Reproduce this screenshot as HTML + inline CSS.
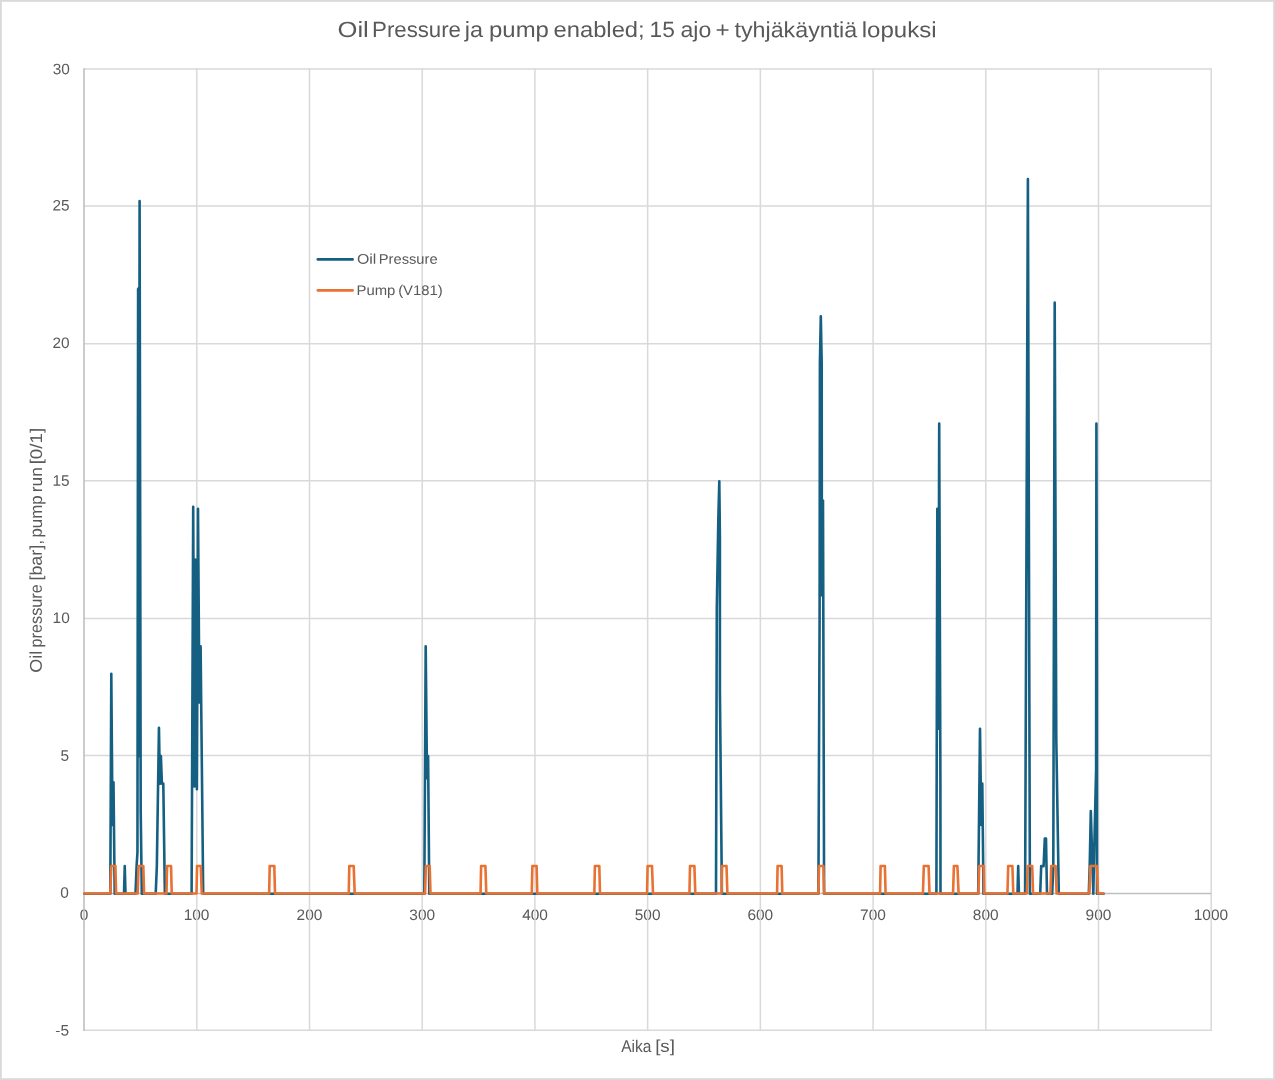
<!DOCTYPE html>
<html lang="fi">
<head>
<meta charset="utf-8">
<title>Oil Pressure ja pump enabled</title>
<style>
html,body{margin:0;padding:0;background:#fff;}
body{width:1275px;height:1080px;overflow:hidden;}
svg{display:block;}
text{font-family:'Liberation Sans', Arial, sans-serif;fill:#595959;}
</style>
</head>
<body>
<svg width="1275" height="1080" viewBox="0 0 1275 1080">
<rect x="0" y="0" width="1275" height="1080" fill="#ffffff"/>
<rect x="0.9" y="0.9" width="1273.2" height="1078.2" fill="none" stroke="#D9D9D9" stroke-width="1.8"/>

<g>
<text x="79.71" y="920.1" font-size="15.2" textLength="8.58" lengthAdjust="spacingAndGlyphs" transform="rotate(0.03 84.0 920.1)">0</text>
<text x="183.65" y="920.1" font-size="15.2" textLength="25.74" lengthAdjust="spacingAndGlyphs" transform="rotate(0.03 196.8 920.1)">100</text>
<text x="296.56" y="920.1" font-size="15.2" textLength="25.74" lengthAdjust="spacingAndGlyphs" transform="rotate(0.03 309.5 920.1)">200</text>
<text x="409.37" y="920.1" font-size="15.2" textLength="25.74" lengthAdjust="spacingAndGlyphs" transform="rotate(0.03 422.2 920.1)">300</text>
<text x="522.19" y="920.1" font-size="15.2" textLength="25.74" lengthAdjust="spacingAndGlyphs" transform="rotate(0.03 534.9 920.1)">400</text>
<text x="634.77" y="920.1" font-size="15.2" textLength="25.74" lengthAdjust="spacingAndGlyphs" transform="rotate(0.03 647.6 920.1)">500</text>
<text x="747.40" y="920.1" font-size="15.2" textLength="25.74" lengthAdjust="spacingAndGlyphs" transform="rotate(0.03 760.4 920.1)">600</text>
<text x="860.11" y="920.1" font-size="15.2" textLength="25.74" lengthAdjust="spacingAndGlyphs" transform="rotate(0.03 873.1 920.1)">700</text>
<text x="972.88" y="920.1" font-size="15.2" textLength="25.74" lengthAdjust="spacingAndGlyphs" transform="rotate(0.03 985.8 920.1)">800</text>
<text x="1085.56" y="920.1" font-size="15.2" textLength="25.74" lengthAdjust="spacingAndGlyphs" transform="rotate(0.03 1098.5 920.1)">900</text>
<text x="1193.75" y="920.1" font-size="15.2" textLength="34.32" lengthAdjust="spacingAndGlyphs" transform="rotate(0.03 1211.2 920.1)">1000</text>
</g>
<g stroke="#D9D9D9" stroke-width="1.5" fill="none">
<line x1="84.0" x2="1211.2" y1="69.10" y2="69.10"/>
<line x1="84.0" x2="1211.2" y1="206.00" y2="206.00"/>
<line x1="84.0" x2="1211.2" y1="343.80" y2="343.80"/>
<line x1="84.0" x2="1211.2" y1="480.70" y2="480.70"/>
<line x1="84.0" x2="1211.2" y1="618.60" y2="618.60"/>
<line x1="84.0" x2="1211.2" y1="755.60" y2="755.60"/>
<line x1="84.0" x2="1211.9" y1="1030.2" y2="1030.2"/>
<line x1="196.81" x2="196.81" y1="68.29" y2="1030.9"/>
<line x1="309.52" x2="309.52" y1="68.29" y2="1030.9"/>
<line x1="422.23" x2="422.23" y1="68.29" y2="1030.9"/>
<line x1="534.94" x2="534.94" y1="68.29" y2="1030.9"/>
<line x1="647.65" x2="647.65" y1="68.29" y2="1030.9"/>
<line x1="760.36" x2="760.36" y1="68.29" y2="1030.9"/>
<line x1="873.07" x2="873.07" y1="68.29" y2="1030.9"/>
<line x1="985.78" x2="985.78" y1="68.29" y2="1030.9"/>
<line x1="1098.49" x2="1098.49" y1="68.29" y2="1030.9"/>
<line x1="1211.20" x2="1211.20" y1="68.29" y2="1030.9"/>
</g>
<g stroke="#BFBFBF" stroke-width="1.6" fill="none">
<line x1="84.0" x2="84.0" y1="68.29" y2="1030.9"/>
<line x1="84.0" x2="1211.2" y1="893.55" y2="893.55"/>
</g>
<polyline points="84.40,893.75 110.30,893.75 111.30,673.70 112.50,824.88 113.50,782.28 114.70,893.75 124.00,893.75 124.75,866.11 125.50,893.75 135.50,893.75 136.60,866.11 137.45,852.37 138.10,288.89 138.90,756.16 139.60,200.93 140.70,811.14 141.80,893.75 155.70,893.75 156.85,866.11 158.95,727.85 159.90,783.65 160.90,756.16 161.90,783.65 163.30,783.65 164.85,893.75 191.60,893.75 193.20,506.86 194.40,786.40 195.30,559.63 196.90,789.15 198.00,508.78 199.40,702.57 200.60,646.22 203.20,893.75 424.30,893.75 425.70,646.22 427.00,778.15 428.10,756.16 429.30,893.75 716.00,893.75 716.80,607.74 718.30,519.78 719.30,481.30 719.90,536.27 719.90,690.20 721.90,893.75 818.40,893.75 819.60,618.73 819.90,363.10 820.80,316.37 821.70,363.10 821.90,595.37 823.00,500.54 824.10,893.75 936.40,893.75 937.30,508.78 938.40,728.68 939.20,423.57 940.40,780.90 940.50,893.75 978.20,893.75 980.00,728.68 981.30,824.88 982.30,783.65 983.50,893.75 1017.50,893.75 1018.20,866.11 1018.90,893.75 1025.10,893.75 1027.90,178.94 1029.90,893.75 1040.20,893.75 1041.20,866.11 1043.60,866.11 1044.80,838.63 1046.00,838.63 1047.00,893.75 1052.20,893.75 1053.30,866.11 1054.70,302.63 1056.30,739.67 1058.80,893.75 1088.80,893.75 1089.70,866.11 1090.80,811.14 1093.30,893.75 1094.50,838.63 1096.10,769.91 1096.40,423.57 1096.90,673.70 1097.00,893.75 1103.55,893.75" fill="none" stroke="#156082" stroke-width="2.6" stroke-linejoin="round" stroke-linecap="round"/>
<polyline points="84.40,893.50 110.25,893.50 111.30,865.96 115.40,865.96 116.10,893.50 137.75,893.50 138.55,865.96 143.30,865.96 144.10,893.50 166.50,893.50 167.05,865.96 171.05,865.96 171.75,893.50 196.50,893.50 197.05,865.96 200.80,865.96 201.75,893.50 269.15,893.50 269.70,865.96 274.30,865.96 275.00,893.50 348.75,893.50 349.30,865.96 353.70,865.96 354.70,893.50 425.05,893.50 425.90,865.96 429.70,865.96 430.50,893.50 480.55,893.50 481.10,865.96 485.40,865.96 486.30,893.50 531.75,893.50 532.40,865.96 536.60,865.96 537.30,893.50 594.35,893.50 594.90,865.96 599.30,865.96 600.00,893.50 647.05,893.50 647.60,865.96 652.00,865.96 653.00,893.50 689.45,893.50 690.00,865.96 694.40,865.96 695.30,893.50 721.55,893.50 722.10,865.96 726.50,865.96 727.40,893.50 777.05,893.50 777.60,865.96 781.60,865.96 782.30,893.50 818.45,893.50 819.00,865.96 823.40,865.96 824.10,893.50 880.05,893.50 880.60,865.96 884.90,865.96 885.60,893.50 922.95,893.50 923.80,865.96 928.60,865.96 929.50,893.50 953.05,893.50 953.90,865.96 957.40,865.96 958.60,893.50 978.45,893.50 979.20,865.96 983.80,865.96 984.30,893.50 1007.45,893.50 1008.20,865.96 1012.40,865.96 1013.30,893.50 1026.85,893.50 1027.70,865.96 1032.20,865.96 1033.10,893.50 1050.45,893.50 1051.20,865.96 1055.60,865.96 1056.60,893.50 1089.35,893.50 1090.40,865.96 1097.00,865.96 1097.90,893.50 1103.55,893.50" fill="none" stroke="#E97132" stroke-width="2.6" stroke-linejoin="round" stroke-linecap="round"/>
<text y="37.1" font-size="22" transform="rotate(0.03 636.9 37.1)"><tspan x="337.59" textLength="31.22" lengthAdjust="spacingAndGlyphs">Oil</tspan> <tspan x="372.08" textLength="88.91" lengthAdjust="spacingAndGlyphs">Pressure</tspan> <tspan x="464.87" textLength="18.23" lengthAdjust="spacingAndGlyphs">ja</tspan> <tspan x="489.06" textLength="59.85" lengthAdjust="spacingAndGlyphs">pump</tspan> <tspan x="553.59" textLength="91.04" lengthAdjust="spacingAndGlyphs">enabled;</tspan> <tspan x="649.57" textLength="25.29" lengthAdjust="spacingAndGlyphs">15</tspan> <tspan x="680.52" textLength="30.75" lengthAdjust="spacingAndGlyphs">ajo</tspan> <tspan x="715.41" textLength="14.18" lengthAdjust="spacingAndGlyphs">+</tspan> <tspan x="734.55" textLength="122.65" lengthAdjust="spacingAndGlyphs">tyhjäkäyntiä</tspan> <tspan x="861.78" textLength="74.84" lengthAdjust="spacingAndGlyphs">lopuksi</tspan></text>
<text x="52.79" y="74.30" font-size="15.2" textLength="17.16" lengthAdjust="spacingAndGlyphs" transform="rotate(0.03 61.3 74.3)">30</text>
<text x="52.54" y="210.60" font-size="15.2" textLength="17.16" lengthAdjust="spacingAndGlyphs" transform="rotate(0.03 61.0 210.6)">25</text>
<text x="52.49" y="348.00" font-size="15.2" textLength="17.16" lengthAdjust="spacingAndGlyphs" transform="rotate(0.03 61.0 348.0)">20</text>
<text x="52.54" y="485.70" font-size="15.2" textLength="17.16" lengthAdjust="spacingAndGlyphs" transform="rotate(0.03 61.0 485.7)">15</text>
<text x="52.59" y="623.00" font-size="15.2" textLength="17.16" lengthAdjust="spacingAndGlyphs" transform="rotate(0.03 61.1 623.0)">10</text>
<text x="60.42" y="760.70" font-size="15.2" textLength="8.58" lengthAdjust="spacingAndGlyphs" transform="rotate(0.03 60.3 760.7)">5</text>
<text x="60.37" y="897.75" font-size="15.2" textLength="8.58" lengthAdjust="spacingAndGlyphs" transform="rotate(0.03 60.3 897.8)">0</text>
<text x="55.28" y="1035.60" font-size="15.2" textLength="13.72" lengthAdjust="spacingAndGlyphs" transform="rotate(0.03 60.3 1035.6)">-5</text>
<text y="1051.7" font-size="17" transform="rotate(0.03 647.4 1051.7)"><tspan x="621.17" textLength="30.23" lengthAdjust="spacingAndGlyphs">Aika</tspan> <tspan x="655.16" textLength="19.77" lengthAdjust="spacingAndGlyphs">[s]</tspan></text>
<text y="0" font-size="17" transform="translate(41.8,672) rotate(-89.97) translate(0,0)"><tspan x="-0.75" textLength="21.95" lengthAdjust="spacingAndGlyphs">Oil</tspan> <tspan x="24.55" textLength="63.27" lengthAdjust="spacingAndGlyphs">pressure</tspan> <tspan x="91.42" textLength="40.78" lengthAdjust="spacingAndGlyphs">[bar],</tspan> <tspan x="134.52" textLength="42.09" lengthAdjust="spacingAndGlyphs">pump</tspan> <tspan x="179.86" textLength="24.86" lengthAdjust="spacingAndGlyphs">run</tspan> <tspan x="207.66" textLength="36.47" lengthAdjust="spacingAndGlyphs">[0/1]</tspan></text>
<line x1="317.8" x2="352.6" y1="259.4" y2="259.4" stroke="#156082" stroke-width="2.6" stroke-linecap="round"/>
<line x1="317.8" x2="352.6" y1="290.4" y2="290.4" stroke="#E97132" stroke-width="2.6" stroke-linecap="round"/>
<text y="263.8" font-size="14" transform="rotate(0.03 397.4 263.8)"><tspan x="356.95" textLength="19.42" lengthAdjust="spacingAndGlyphs">Oil</tspan> <tspan x="378.79" textLength="58.86" lengthAdjust="spacingAndGlyphs">Pressure</tspan></text>
<text y="295.0" font-size="14" transform="rotate(0.03 399.8 295.0)"><tspan x="356.48" textLength="38.84" lengthAdjust="spacingAndGlyphs">Pump</tspan> <tspan x="398.18" textLength="44.54" lengthAdjust="spacingAndGlyphs">(V181)</tspan></text>
</svg>
</body>
</html>
